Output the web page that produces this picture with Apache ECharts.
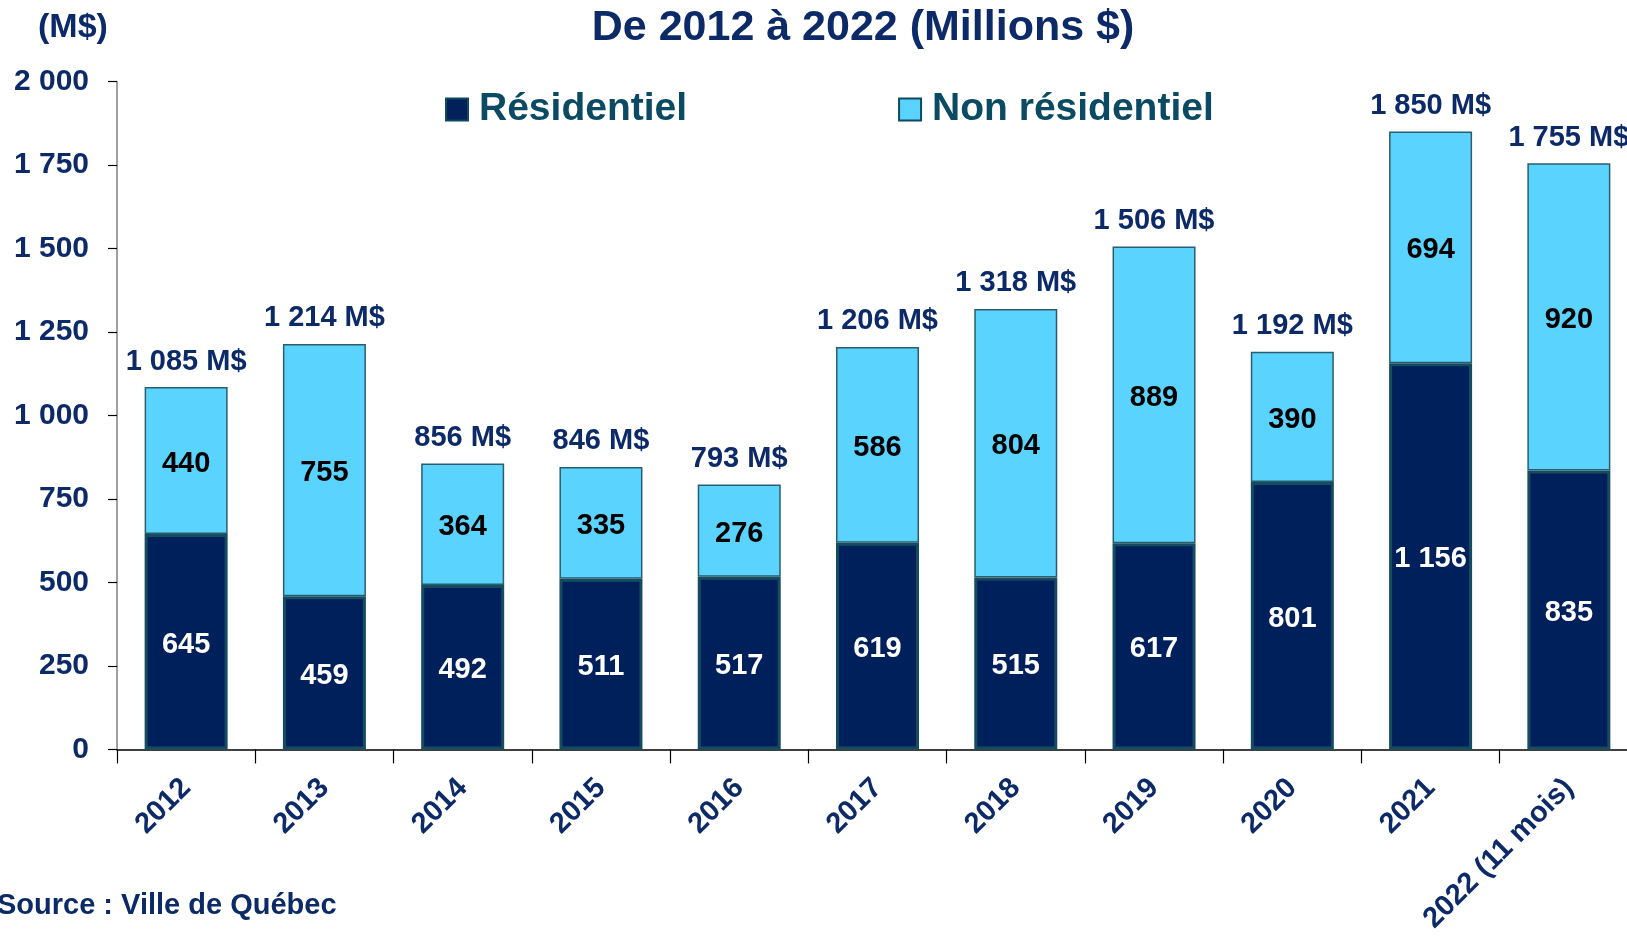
<!DOCTYPE html>
<html>
<head>
<meta charset="utf-8">
<style>
  html, body { margin: 0; padding: 0; background: #ffffff; overflow: hidden; }
  /* the plot runs a little past the right edge of the page, so the canvas is wider than the window */
  #chart { width: 1640px; height: 936px; }
</style>
<script src="https://cdn.jsdelivr.net/npm/echarts@6/dist/echarts.min.js"></script>
</head>
<body>
<div id="chart"></div>
<script>
// Valeur des permis de construction, Ville de Québec (M$)
const years = ['2012', '2013', '2014', '2015', '2016', '2017', '2018', '2019', '2020', '2021', '2022 (11 mois)'];
const residentiel = [645, 459, 492, 511, 517, 619, 515, 617, 801, 1156, 835];
const nonResidentiel = [440, 755, 364, 335, 276, 586, 804, 889, 390, 694, 920];
const totals = [1085, 1214, 856, 846, 793, 1206, 1318, 1506, 1192, 1850, 1755];
const yTicks = { min: 0, max: 2000, interval: 250 };

const FONT = "'Liberation Sans', Arial, sans-serif";
const NAVY_TEXT = '#0d2a68';
const LEGEND_TEXT = '#0b4a63';
const DARK = '#00205c';
const LIGHT = '#5ad3ff';
const EDGE = '#154d60';

// "1850" -> "1 850"
const spaced = v => String(v).replace(/\B(?=(\d{3})+(?!\d))/g, ' ');

const chart = echarts.init(document.getElementById('chart'), null, { renderer: 'canvas' });

chart.setOption({
  animation: false,
  backgroundColor: '#ffffff',
  textStyle: { fontFamily: FONT },
  graphic: [
    {
      type: 'text', x: 863, y: 28,
      style: {
        text: 'De 2012 à 2022 (Millions $)',
        font: 'bold 43px ' + FONT, fill: NAVY_TEXT,
        align: 'center', verticalAlign: 'middle'
      }
    },
    {
      type: 'text', x: 38, y: 28,
      style: {
        text: '(M$)', font: 'bold 34px ' + FONT, fill: NAVY_TEXT,
        align: 'left', verticalAlign: 'middle'
      }
    },
    {
      type: 'text', x: -3, y: 906,
      style: {
        text: 'Source : Ville de Québec', font: 'bold 29px ' + FONT, fill: NAVY_TEXT,
        align: 'left', verticalAlign: 'middle'
      }
    }
  ],
  legend: {
    left: 445, top: 90, padding: 0,
    icon: 'rect', itemWidth: 22, itemHeight: 22, itemGap: 211,
    itemStyle: { borderColor: '#0d4a5e', borderWidth: 2 },
    textStyle: { fontFamily: FONT, fontWeight: 'bold', fontSize: 39, color: LEGEND_TEXT, padding: [0, 0, 0, 6] },
    data: ['Résidentiel', 'Non résidentiel']
  },
  grid: { left: 117, right: 2, top: 81.5, bottom: 185.5, containLabel: false },
  xAxis: {
    type: 'category',
    data: years,
    axisLine: { lineStyle: { color: '#000000', width: 1.5 } },
    axisTick: { show: true, length: 14, lineStyle: { color: '#000000', width: 1.2 } },
    axisLabel: {
      interval: 0, rotate: 45, margin: 34,
      fontFamily: FONT, fontWeight: 'bold', fontSize: 29, color: NAVY_TEXT
    }
  },
  yAxis: {
    type: 'value',
    min: yTicks.min, max: yTicks.max, interval: yTicks.interval,
    splitLine: { show: false },
    axisLine: { show: true, lineStyle: { color: '#7f7f7f', width: 1.5 } },
    axisTick: { show: true, length: 9, lineStyle: { color: '#000000', width: 1.2 } },
    axisLabel: {
      margin: 28, formatter: v => spaced(v),
      fontFamily: FONT, fontWeight: 'bold', fontSize: 30, color: NAVY_TEXT
    }
  },
  series: [
    {
      name: 'Résidentiel',
      type: 'bar', stack: 'total', barWidth: 83,
      data: residentiel,
      itemStyle: { color: DARK, borderColor: EDGE, borderWidth: 3 },
      label: {
        show: true, position: 'inside', offset: [0, 3], formatter: p => spaced(p.value),
        fontFamily: FONT, fontWeight: 'bold', fontSize: 29, color: '#ffffff'
      }
    },
    {
      name: 'Non résidentiel',
      type: 'bar', stack: 'total', barWidth: 83,
      data: nonResidentiel,
      itemStyle: { color: LIGHT, borderColor: '#2a5e6e', borderWidth: 1.5 },
      label: {
        show: true, position: 'inside', offset: [0, 3], formatter: p => spaced(p.value),
        fontFamily: FONT, fontWeight: 'bold', fontSize: 29, color: '#000000'
      }
    },
    {
      // total labels above each stacked column
      name: 'Total',
      type: 'bar', stack: 'total', barWidth: 83,
      data: totals.map(() => 0),
      itemStyle: { color: 'transparent' },
      label: {
        show: true, position: 'top', distance: 11,
        formatter: p => spaced(totals[p.dataIndex]) + ' M$',
        fontFamily: FONT, fontWeight: 'bold', fontSize: 29, color: NAVY_TEXT
      },
      silent: true
    }
  ]
});
</script>
</body>
</html>
